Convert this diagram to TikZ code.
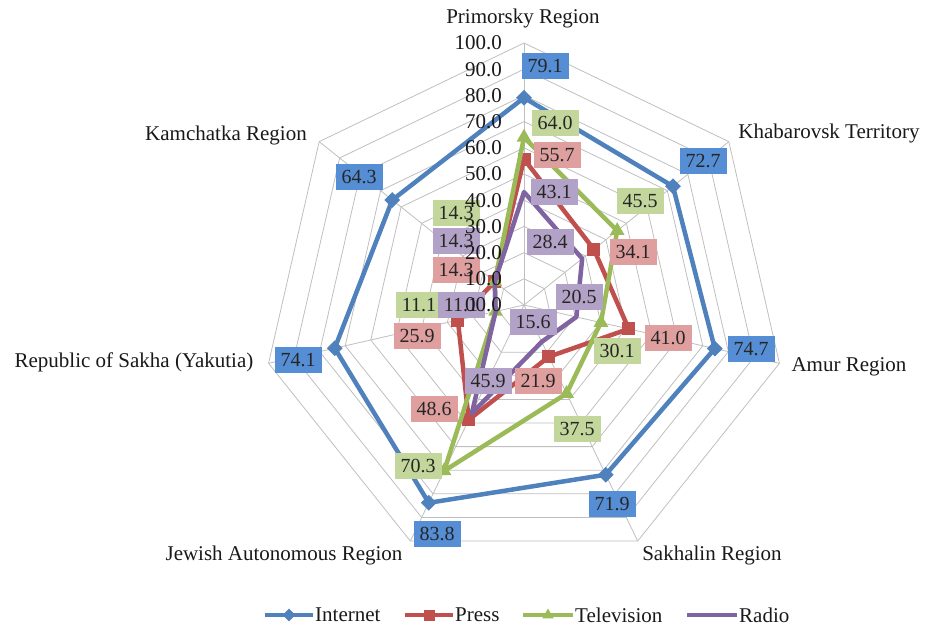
\documentclass[tikz,border=0pt]{standalone}
\usepackage{fontspec}
\setmainfont{Liberation Serif}
\usetikzlibrary{calc,shapes.geometric}
\definecolor{inetc}{HTML}{4F81BD}
\definecolor{pressc}{HTML}{C0504D}
\definecolor{tvc}{HTML}{9BBB59}
\definecolor{radc}{HTML}{8064A2}
\definecolor{inetbox}{HTML}{558ED5}
\definecolor{pressbox}{HTML}{DE9F9E}
\definecolor{tvbox}{HTML}{C3D69B}
\definecolor{radbox}{HTML}{B3A2C7}
\definecolor{gridc}{HTML}{BFBFBF}
\begin{document}
\begin{tikzpicture}[x=1pt,y=-1pt,
  gridline/.style={draw=gridc, line width=0.8pt},
  ser/.style={line width=4.5pt, line join=round},
  txt/.style={font=\fontsize{21}{24}\selectfont, text=black!90, inner sep=0pt},
  lbl/.style={minimum width=47pt, minimum height=26pt, inner sep=0pt, font=\fontsize{20}{22}\selectfont, text=black!85},
  dmark/.style={shape=diamond, fill=inetc, minimum size=16pt, inner sep=0pt},
  smark/.style={shape=rectangle, fill=pressc, minimum size=13pt, inner sep=0pt},
  tmark/.style={shape=regular polygon, regular polygon sides=3, fill=tvc, minimum size=17pt, inner sep=0pt}]
\useasboundingbox (0,0) rectangle (925,626);
\coordinate (c) at (524,305);
% grid
\foreach \r in {1,...,10}{
  \draw[gridline] ($(c)+(-90:{\r*26.2})$)
    \foreach \k in {1,...,6}{ -- ($(c)+({-90+\k*360/7}:{\r*26.2})$) } -- cycle;
}
\foreach \k in {0,...,6}{
  \coordinate (ax\k) at ($(c)+({-90+\k*360/7}:262)$);
  \draw[gridline] (c) -- (ax\k);
}
% data points
\foreach \v [count=\k from 0] in {79.1,72.7,74.7,71.9,83.8,74.1,64.3}
  \coordinate (I\k) at ($(c)+({-90+\k*360/7}:{\v*2.62})$);
\foreach \v [count=\k from 0] in {55.7,34.1,41.0,21.9,48.6,25.9,14.3}
  \coordinate (P\k) at ($(c)+({-90+\k*360/7}:{\v*2.62})$);
\foreach \v [count=\k from 0] in {64.0,45.5,30.1,37.5,70.3,11.1,14.3}
  \coordinate (T\k) at ($(c)+({-90+\k*360/7}:{\v*2.62})$);
\foreach \v [count=\k from 0] in {43.1,28.4,20.5,15.6,45.9,11.1,14.3}
  \coordinate (R\k) at ($(c)+({-90+\k*360/7}:{\v*2.62})$);
% series
\draw[ser, inetc] (I0)--(I1)--(I2)--(I3)--(I4)--(I5)--(I6)--cycle;
\foreach \k in {0,...,6} \node[dmark] (im\k) at (I\k) {};
\draw[ser, pressc] (P0)--(P1)--(P2)--(P3)--(P4)--(P5)--(P6)--cycle;
\foreach \k in {0,...,6} \node[smark] (pm\k) at (P\k) {};
\draw[ser, tvc] (T0)--(T1)--(T2)--(T3)--(T4)--(T5)--(T6)--cycle;
\foreach \k in {0,...,6} \node[tmark] (tm\k) at (T\k) {};
\draw[ser, radc] (R0)--(R1)--(R2)--(R3)--(R4)--(R5)--(R6)--cycle;
% data labels
\foreach \x/\y/\t [count=\k] in {545/66/79.1,703/161/72.7,751/349/74.7,612/504/71.9,437/534/83.8,298/360/74.1,359/177/64.3}
  \node[lbl, fill=inetbox] (li\k) at (\x,\y) {\t};
\foreach \x/\y/\t [count=\k] in {557/155/55.7,633/252/34.1,668/338/41.0,538/381/21.9,434/409/48.6,417/336/25.9,456/270/14.3}
  \node[lbl, fill=pressbox] (lp\k) at (\x,\y) {\t};
\foreach \x/\y/\t [count=\k] in {555/123/64.0,640/201/45.5,617/351/30.1,577/429/37.5,418/466/70.3,419/305/11.1,456/213/14.3}
  \node[lbl, fill=tvbox] (lt\k) at (\x,\y) {\t};
\foreach \x/\y/\t [count=\k] in {554/192/43.1,550/242/28.4,579/297/20.5,533/322/15.6,488/381/45.9,461/305/11.1,456/241/14.3}
  \node[lbl, fill=radbox] (lr\k) at (\x,\y) {\t};
% tick labels
\foreach \v in {0,...,10}
  \node[txt, anchor=east] (tick\v) at (502,{305-\v*26.2}) {\v0.0};
% category labels
\node[txt] (cat0) at (523,18) {Primorsky Region};
\node[txt] (cat1) at (829,133) {Khabarovsk Territory};
\node[txt] (cat2) at (849,367) {Amur Region};
\node[txt] (cat3) at (712,555) {Sakhalin Region};
\node[txt] (cat4) at (284,555) {Jewish Autonomous Region};
\node[txt] (cat5) at (134,362) {Republic of Sakha (Yakutia)};
\node[txt] (cat6) at (226,135) {Kamchatka Region};
% legend
\coordinate (la1) at (265,615); \coordinate (la2) at (313,615);
\draw[ser, inetc, line width=4pt] (la1) -- (la2);
\node[dmark, minimum size=13pt] (lgm1) at ($(la1)!0.5!(la2)$) {};
\node[txt, anchor=west] (lg1) at (315,615) {Internet};
\coordinate (lb1) at (405,615); \coordinate (lb2) at (453,615);
\draw[ser, pressc, line width=4pt] (lb1) -- (lb2);
\node[smark, minimum size=11pt] (lgm2) at ($(lb1)!0.5!(lb2)$) {};
\node[txt, anchor=west] (lg2) at (455,615) {Press};
\coordinate (lc1) at (523,615); \coordinate (lc2) at (573,615);
\draw[ser, tvc, line width=4pt] (lc1) -- (lc2);
\node[tmark, minimum size=13pt] (lgm3) at ($(lc1)!0.5!(lc2)$) {};
\node[txt, anchor=west] (lg3) at (575,615) {Television};
\coordinate (ld1) at (687,615); \coordinate (ld2) at (737,615);
\draw[ser, radc, line width=4pt] (ld1) -- (ld2);
\node[txt, anchor=west] (lg4) at (739,615) {Radio};
\end{tikzpicture}
\end{document}
